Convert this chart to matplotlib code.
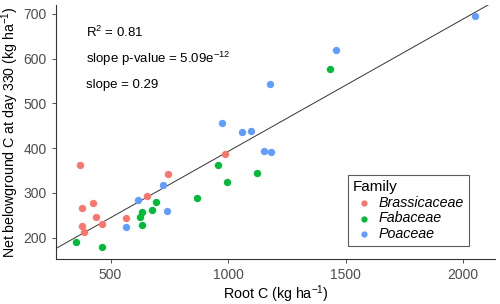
import numpy as np
import matplotlib
matplotlib.use('Agg')
import matplotlib.pyplot as plt

plt.rcParams['font.family'] = ['Liberation Sans', 'DejaVu Sans']
plt.rcParams['mathtext.fontset'] = 'custom'
plt.rcParams['mathtext.rm'] = 'Liberation Sans'
plt.rcParams['mathtext.it'] = 'Liberation Sans:italic'

# 数据
brassica_x = [370, 377, 425, 440, 377, 388, 464, 565, 657, 745, 988]
brassica_y = [362, 266, 277, 245, 225, 212, 230, 244, 292, 341, 387]

fabaceae_x = [353, 462, 634, 624, 634, 677, 694, 868, 957, 997, 1125, 1433]
fabaceae_y = [191, 178, 228, 247, 258, 262, 280, 288, 363, 325, 345, 576]

poaceae_x = [568, 617, 725, 742, 1151, 1182, 973, 1059, 1096, 1177, 1460, 2051]
poaceae_y = [224, 283, 317, 259, 394, 391, 455, 436, 437, 543, 620, 694]

families = ['Brassicaceae', 'Fabaceae', 'Poaceae']
colors = ['#F8766D', '#00BA38', '#619CFF']
x_ticks = [500, 1000, 1500, 2000]
y_ticks = [200, 300, 400, 500, 600, 700]

fig = plt.figure(figsize=(5, 3.04), dpi=100)
ax = fig.add_axes([0.112, 0.148, 0.878, 0.836])

all_x = np.array(brassica_x + fabaceae_x + poaceae_x)
all_y = np.array(brassica_y + fabaceae_y + poaceae_y)

# 坐标范围：ggplot 默认 5% 扩展
xr = all_x.max() - all_x.min()
yr = all_y.max() - all_y.min()
xlim = (all_x.min() - 0.05 * xr, all_x.max() + 0.05 * xr)
ylim = (all_y.min() - 0.05 * yr, all_y.max() + 0.05 * yr)

# 回归线
k, b = np.polyfit(all_x, all_y, 1)
xx = np.array(xlim)
ax.plot(xx, k * xx + b, color='#333333', linewidth=0.7, zorder=1)

for fx, fy, name, c in zip([brassica_x, fabaceae_x, poaceae_x],
                           [brassica_y, fabaceae_y, poaceae_y], families, colors):
    ax.scatter(fx, fy, s=28, color=c, label=name, linewidths=0, zorder=2)

ax.set_xlim(xlim)
ax.set_ylim(ylim)
ax.set_xticks(x_ticks)
ax.set_yticks(y_ticks)
ax.tick_params(colors='#333333', labelcolor='#4D4D4D', labelsize=10, length=3, width=0.6)
for s in ['top', 'right']:
    ax.spines[s].set_visible(False)
for s in ['left', 'bottom']:
    ax.spines[s].set_color('#333333')
    ax.spines[s].set_linewidth(0.8)

ax.set_xlabel(r'Root C (kg ha$^{-1}$)', fontsize=10.3, labelpad=1)
ax.set_ylabel(r'Net belowground C at day 330 (kg ha$^{-1}$)', fontsize=10.2, labelpad=2)

ax.text(0.068, 0.89, r'R$^2$ = 0.81', transform=ax.transAxes, fontsize=9.5, va='center')
ax.text(0.068, 0.787, r'slope p-value = 5.09e$^{-12}$', transform=ax.transAxes, fontsize=9.5, va='center')
ax.text(0.068, 0.685, 'slope = 0.29', transform=ax.transAxes, fontsize=9.5, va='center')

leg = ax.legend(title='Family', loc='lower left', bbox_to_anchor=(0.665, 0.051),
                borderaxespad=0, fontsize=10.3, title_fontsize=11, frameon=True,
                fancybox=False, handletextpad=0.3, labelspacing=0.12, borderpad=0.35,
                handlelength=1.5, markerscale=0.85)
leg.get_frame().set_edgecolor('#333333')
leg.get_frame().set_linewidth(0.8)
leg._legend_box.align = 'left'
for t in leg.get_texts():
    t.set_fontstyle('italic')

plt.savefig('out.png', dpi=100)
plt.close()
